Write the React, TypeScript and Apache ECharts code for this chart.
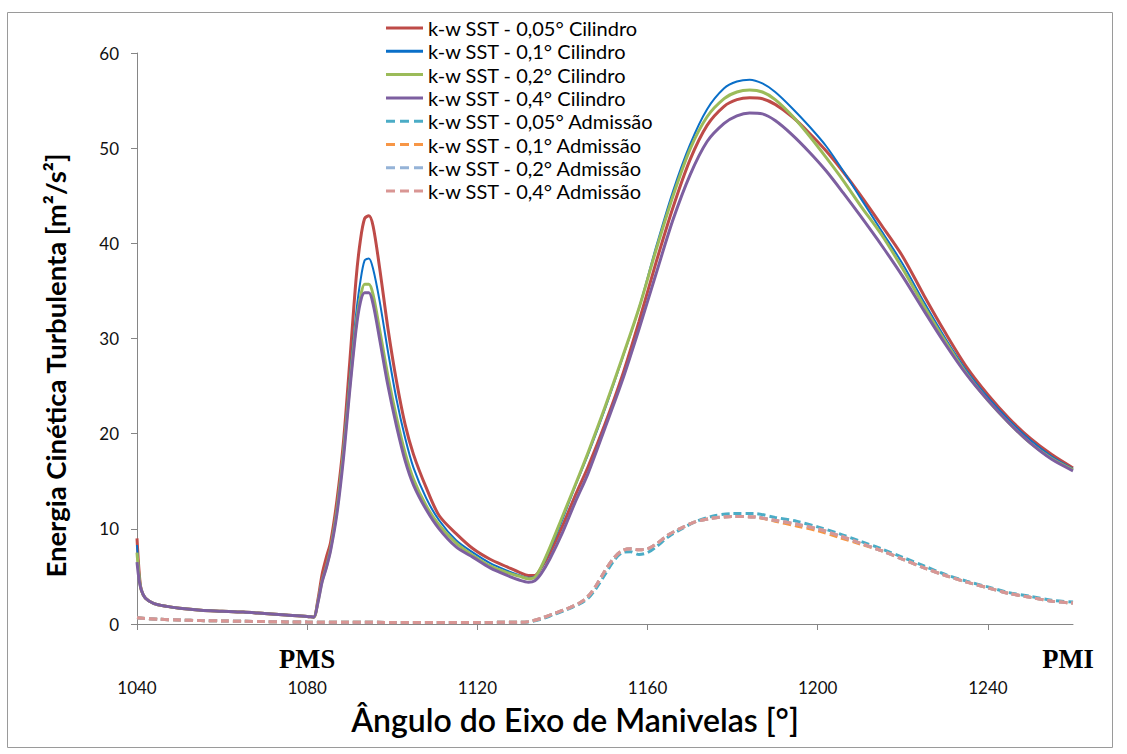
import React, { useEffect, useRef } from "react";
import * as echarts from "echarts";

// ---- Data ----
const seriesNames = [
  "k-w SST - 0,05° Cilindro",
  "k-w SST - 0,1° Cilindro",
  "k-w SST - 0,2° Cilindro",
  "k-w SST - 0,4° Cilindro",
  "k-w SST - 0,05° Admissão",
  "k-w SST - 0,1° Admissão",
  "k-w SST - 0,2° Admissão",
  "k-w SST - 0,4° Admissão",
];

const xTicks = [1040, 1080, 1120, 1160, 1200, 1240];
const yTicks = [0, 10, 20, 30, 40, 50, 60];

const cylAngles = [
  1040, 1040.5, 1041, 1042, 1044, 1047, 1050, 1055, 1060, 1065, 1070, 1075, 1080, 1081.5,
  1082.5, 1083.5, 1084.5, 1085.5, 1087, 1088.5, 1090, 1091.5, 1092.5, 1093.5, 1094.5, 1095.5,
  1097, 1099, 1101, 1103, 1105, 1108, 1111, 1115, 1119, 1123, 1127, 1130, 1132, 1133.5, 1135,
  1137, 1140, 1143, 1146, 1150, 1154, 1158, 1162, 1166, 1170, 1174, 1178, 1181, 1184, 1187,
  1190, 1194, 1198, 1202, 1206, 1210, 1215, 1220, 1225, 1230, 1235, 1240, 1245, 1250, 1255, 1260,
];

const cyl005 = [
  9.0, 5.5, 3.6, 2.7, 2.15, 1.85, 1.65, 1.45, 1.35, 1.25, 1.1, 0.95, 0.8, 0.72,
  2.5, 5.2, 7.0, 8.6, 13.0, 19.0, 27.5, 36.3, 40.3, 42.6, 42.9, 41.8,
  37.5, 31.0, 25.5, 21.0, 17.8, 14.3, 11.4, 9.5, 7.9, 6.8, 6.0, 5.4, 5.1, 5.1, 5.9,
  7.4, 10.3, 13.5, 16.5, 21.0, 26.0, 31.8, 38.0, 43.8, 48.8, 52.4, 54.4, 55.1, 55.3, 55.2,
  54.6, 53.3, 51.6, 49.7, 47.5, 45.1, 41.9, 38.6, 34.5, 30.6, 27.0, 24.1, 21.6, 19.5, 17.8, 16.4,
];

const cyl01 = [
  8.3, 5.3, 3.6, 2.7, 2.15, 1.85, 1.65, 1.45, 1.35, 1.25, 1.1, 0.95, 0.8, 0.72,
  2.3, 4.6, 6.1, 8.0, 12.2, 18.3, 25.8, 32.6, 36.0, 38.2, 38.4, 37.3,
  34.0, 28.6, 23.6, 19.6, 16.4, 13.2, 10.9, 8.8, 7.5, 6.4, 5.6, 5.1, 4.85, 4.95, 5.9,
  7.8, 11.0, 14.5, 17.8, 22.6, 27.8, 33.2, 39.6, 45.5, 50.4, 54.1, 56.3, 57.0, 57.2, 56.8,
  55.9, 54.2, 52.3, 50.2, 47.6, 44.8, 41.3, 37.8, 33.8, 30.0, 26.6, 23.8, 21.4, 19.3, 17.6, 16.3,
];

const cyl02 = [
  7.5, 5.0, 3.6, 2.7, 2.15, 1.85, 1.65, 1.45, 1.35, 1.25, 1.1, 0.95, 0.8, 0.72,
  2.3, 4.5, 6.0, 7.9, 12.0, 17.9, 25.0, 31.5, 34.3, 35.7, 35.7, 34.6,
  31.0, 26.0, 21.7, 18.0, 15.2, 12.4, 10.4, 8.5, 7.2, 6.1, 5.4, 5.0, 4.75, 4.9, 6.0,
  8.0, 11.3, 14.6, 18.0, 22.8, 27.9, 33.2, 39.3, 45.0, 49.9, 53.3, 55.2, 55.9, 56.1, 55.9,
  55.1, 53.4, 51.3, 49.0, 46.6, 44.0, 40.9, 37.3, 33.4, 29.7, 26.3, 23.5, 21.1, 19.0, 17.4, 16.2,
];

const cyl04 = [
  6.5, 4.6, 3.6, 2.7, 2.15, 1.85, 1.65, 1.45, 1.35, 1.25, 1.1, 0.95, 0.8, 0.72,
  2.2, 4.4, 5.9, 7.7, 11.6, 17.3, 24.5, 31.0, 33.8, 34.8, 34.8, 33.6,
  30.0, 25.0, 20.8, 17.2, 14.6, 12.0, 10.0, 8.1, 7.0, 5.9, 5.1, 4.6, 4.4, 4.55, 5.3,
  6.8, 9.6, 12.8, 15.8, 20.6, 25.5, 31.0, 36.8, 42.5, 47.2, 50.7, 52.6, 53.4, 53.7, 53.6,
  52.9, 51.4, 49.6, 47.6, 45.3, 42.9, 39.8, 36.5, 32.9, 29.4, 26.2, 23.5, 21.1, 19.0, 17.3, 16.1,
];

const admAngles = [
  1040, 1045, 1050, 1055, 1060, 1065, 1070, 1075, 1080, 1090, 1100, 1110, 1120, 1130, 1132,
  1135, 1138, 1141, 1144, 1146, 1148, 1150, 1152, 1154, 1156, 1158, 1160, 1162, 1165, 1168,
  1171, 1175, 1180, 1185, 1190, 1195, 1200, 1205, 1210, 1215, 1220, 1225, 1230, 1235, 1240,
  1245, 1250, 1255, 1260,
];

const adm005 = [
  0.65, 0.5, 0.42, 0.36, 0.32, 0.28, 0.25, 0.22, 0.2, 0.18, 0.17, 0.17, 0.17, 0.18, 0.22,
  0.5, 1.0, 1.5, 2.1, 2.7, 3.8, 5.2, 6.6, 7.5, 7.6, 7.3, 7.5, 8.1, 9.2, 10.0,
  10.7, 11.3, 11.6, 11.6, 11.2, 10.8, 10.2, 9.5, 8.7, 7.9, 7.0, 6.1, 5.2, 4.5, 3.9,
  3.3, 2.9, 2.5, 2.3,
];

const adm01 = [
  0.65, 0.5, 0.42, 0.36, 0.32, 0.28, 0.25, 0.22, 0.2, 0.18, 0.17, 0.17, 0.17, 0.18, 0.25,
  0.6, 1.1, 1.6, 2.2, 2.9, 4.1, 5.6, 6.9, 7.7, 7.9, 7.8, 7.9, 8.4, 9.4, 10.1,
  10.7, 11.1, 11.3, 11.25, 10.8, 10.3, 9.8, 9.1, 8.4, 7.7, 6.8, 5.9, 5.1, 4.4, 3.8,
  3.2, 2.8, 2.4, 2.2,
];

const adm02 = [
  0.65, 0.5, 0.42, 0.36, 0.32, 0.28, 0.25, 0.22, 0.2, 0.18, 0.17, 0.17, 0.17, 0.18, 0.25,
  0.6, 1.1, 1.6, 2.2, 2.9, 4.1, 5.6, 6.9, 7.7, 7.9, 7.8, 7.9, 8.4, 9.4, 10.1,
  10.7, 11.1, 11.3, 11.25, 10.9, 10.5, 10.0, 9.3, 8.5, 7.7, 6.8, 5.9, 5.1, 4.4, 3.8,
  3.2, 2.8, 2.4, 2.2,
];

const adm04 = [
  0.65, 0.5, 0.42, 0.36, 0.32, 0.28, 0.25, 0.22, 0.2, 0.18, 0.17, 0.17, 0.17, 0.18, 0.25,
  0.6, 1.1, 1.6, 2.2, 2.9, 4.1, 5.6, 6.9, 7.7, 7.9, 7.8, 7.9, 8.4, 9.4, 10.1,
  10.7, 11.1, 11.3, 11.25, 10.9, 10.5, 10.0, 9.3, 8.5, 7.7, 6.8, 5.9, 5.1, 4.4, 3.8,
  3.2, 2.8, 2.4, 2.2,
];

const markers = [
  { label: "PMS", angle: 1080 },
  { label: "PMI", angle: 1260 },
];

const colors = ["#BE4B48", "#0A6FC8", "#9BBB59", "#7D5FA0", "#4BACC6", "#F79646", "#95B3D7", "#D99694"];

const SOLID_ICON = "path://M0,0h37v3h-37z";
const DASH_ICON = "path://M0,0h9v3h-9zM14,0h9v3h-9zM28,0h9v3h-9z";

const pair = (xs: number[], ys: number[]) => xs.map((x, i) => [x, ys[i]]);

export default function App() {
  const ref = useRef<HTMLDivElement>(null);

  useEffect(() => {
    if (!ref.current) return;
    const chart = echarts.init(ref.current, null, { renderer: "svg" });

    const solid = [cyl005, cyl01, cyl02, cyl04];
    const dashed = [adm005, adm01, adm02, adm04];
    const solidWidths = [3, 2, 3, 3];

    const series: any[] = [];
    solid.forEach((vals, i) => {
      series.push({
        name: seriesNames[i],
        type: "line",
        data: pair(cylAngles, vals),
        showSymbol: false,
        symbol: "none",
        smooth: 0.3,
        lineStyle: { color: colors[i], width: solidWidths[i] },
        itemStyle: { color: colors[i] },
      });
    });
    dashed.forEach((vals, i) => {
      series.push({
        name: seriesNames[i + 4],
        type: "line",
        data: pair(admAngles, vals),
        showSymbol: false,
        symbol: "none",
        smooth: 0.3,
        lineStyle: { color: colors[i + 4], width: 3, type: [8, 4] },
        itemStyle: { color: colors[i + 4] },
      });
    });

    const gridLeft = 137;
    const gridRight = 1073;
    const xToPx = (v: number) => gridLeft + ((v - 1040) / 220) * (gridRight - gridLeft);

    chart.setOption({
      animation: false,
      backgroundColor: "#ffffff",
      textStyle: { fontFamily: "Lato" },
      grid: { left: gridLeft, top: 53, right: 1127 - gridRight, bottom: 130, containLabel: false },
      legend: {
        orient: "vertical",
        left: 381,
        top: 13,
        itemWidth: 37,
        itemHeight: 3,
        itemGap: 3.3,
        data: seriesNames.map((n, i) => ({
          name: n,
          icon: i < 4 ? SOLID_ICON : DASH_ICON,
          itemStyle: { color: colors[i] },
        })),
        textStyle: { fontFamily: "Lato", fontSize: 20, color: "#000" },
      },
      xAxis: {
        type: "value",
        min: 1040,
        max: 1260,
        interval: 40,
        name: "Ângulo do Eixo de Manivelas [°]",
        nameLocation: "middle",
        nameGap: 79,
        nameTextStyle: {
          fontFamily: "Lato",
          fontSize: 32,
          fontWeight: 600,
          color: "#000",
          padding: [0, 60, 0, 0],
        },
        splitLine: { show: false },
        axisLine: { lineStyle: { color: "#868686", width: 1 } },
        axisTick: { show: true, length: 6, lineStyle: { color: "#868686" }, customValues: xTicks },
        axisLabel: {
          customValues: xTicks,
          formatter: (v: number) => String(v),
          margin: 55,
          fontFamily: "Lato",
          fontSize: 17,
          color: "#111",
        },
      },
      yAxis: {
        type: "value",
        min: 0,
        max: 60,
        interval: 10,
        name: "Energia Cinética Turbulenta [m²/s²]",
        nameLocation: "middle",
        nameGap: 68,
        nameTextStyle: {
          fontFamily: "Lato",
          fontSize: 27.5,
          fontWeight: "bold",
          color: "#000",
          padding: [0, 54, 0, 0],
        },
        splitLine: { show: false },
        axisLine: { show: true, lineStyle: { color: "#868686", width: 1 } },
        axisTick: { show: true, length: 6, lineStyle: { color: "#868686" }, customValues: yTicks },
        axisLabel: { customValues: yTicks, margin: 18, fontFamily: "Lato", fontSize: 17, color: "#111" },
      },
      graphic: [
        {
          type: "rect",
          shape: { x: 7.5, y: 12.5, width: 1105, height: 735 },
          style: { fill: "none", stroke: "#9A9A9A", lineWidth: 1 },
          silent: true,
          z: -10,
        },
        ...markers.map((m) => ({
          type: "text",
          x: xToPx(m.angle) - (m.label === "PMI" ? 5 : 0),
          y: 659,
          style: {
            text: m.label,
            font: "bold 28px 'Liberation Serif'",
            fill: "#000",
            textAlign: "center",
            textVerticalAlign: "middle",
          },
          scaleX: 0.95,
        })),
      ],
      series,
    });

    return () => chart.dispose();
  }, []);

  return (
    <div
      ref={ref}
      style={{ position: "fixed", left: 0, top: 0, width: 1127, height: 754, background: "#fff" }}
    />
  );
}
